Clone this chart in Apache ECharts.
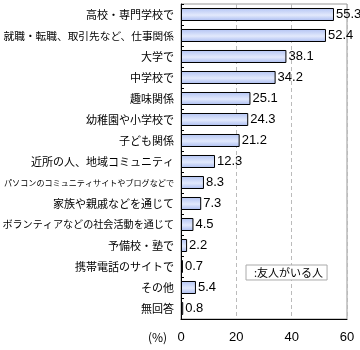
<!DOCTYPE html>
<html><head><meta charset="utf-8">
<script src="https://cdn.jsdelivr.net/npm/echarts@6/dist/echarts.min.js"></script>
<style>html,body{margin:0;padding:0;background:#fff}#c{width:360px;height:350px}</style>
</head><body><div id="c"></div>
<script>
var categories = ['高校・専門学校で','就職・転職、取引先など、仕事関係','大学で','中学校で','趣味関係','幼稚園や小学校で','子ども関係','近所の人、地域コミュニティ','パソコンのコミュニティサイトやブログなどで','家族や親戚などを通じて','ボランティアなどの社会活動を通じて','予備校・塾で','携帯電話のサイトで','その他','無回答'];
var values = [55.3, 52.4, 38.1, 34.2, 25.1, 24.3, 21.2, 12.3, 8.3, 7.3, 4.5, 2.2, 0.7, 5.4, 0.8];
var seriesName = '友人がいる人';
var xTicks = [0, 20, 40, 60];

var font = '"Noto Sans CJK JP", sans-serif';
var labelWidth = 172;
var rich = {};
categories.forEach(function (c, i) {
  rich['c' + i] = {fontSize: Math.min(11, Math.floor(labelWidth / c.length * 10) / 10), color: '#000', fontFamily: font};
});
var chart = echarts.init(document.getElementById('c'));
chart.setOption({
  animation: false,
  textStyle: {fontFamily: font},
  grid: {left: 181, right: 13, top: 4, bottom: 31, show: true, borderColor: '#999', borderWidth: 1, containLabel: false, outerBoundsMode: 'none'},
  legend: {
    data: [seriesName], left: 246, top: 265, itemWidth: 0, itemHeight: 0, itemGap: 0,
    formatter: ':{name}', borderColor: '#aaa', borderWidth: 1, backgroundColor: '#fff',
    padding: [2, 4, 2, 2], textStyle: {fontSize: 11, color: '#000', fontFamily: font}
  },
  graphic: [{type: 'text', left: 148, top: 331, style: {text: '(%)', fontSize: 12, fill: '#000', fontFamily: font}}],
  xAxis: {
    type: 'value', min: xTicks[0], max: xTicks[xTicks.length - 1], interval: 20,
    axisLine: {show: true, lineStyle: {color: '#000'}},
    axisTick: {show: false},
    axisLabel: {fontSize: 13, color: '#000', margin: 12, fontFamily: 'Liberation Sans, sans-serif'},
    splitLine: {show: true, lineStyle: {color: '#bbb', type: [4, 3]}}
  },
  yAxis: {
    type: 'category', data: categories, inverse: true,
    axisLine: {show: true, lineStyle: {color: '#000'}},
    axisTick: {show: true, inside: true, length: 3, lineStyle: {color: '#000'}},
    axisLabel: {
      margin: 7, rich: rich,
      formatter: function (v) { return '{c' + categories.indexOf(v) + '|' + v + '}'; }
    }
  },
  series: [{
    name: seriesName, type: 'bar', data: values, barCategoryGap: '38%',
    itemStyle: {
      color: new echarts.graphic.LinearGradient(0, 0, 0, 1, [
        {offset: 0, color: '#b2c3f3'}, {offset: 0.55, color: '#e2e9fc'}, {offset: 1, color: '#a9bbf0'}
      ]),
      borderColor: '#000', borderWidth: 1
    },
    label: {show: true, position: 'right', distance: 2, fontSize: 13, color: '#000', fontFamily: 'Liberation Sans, sans-serif'}
  }]
});
</script></body></html>
